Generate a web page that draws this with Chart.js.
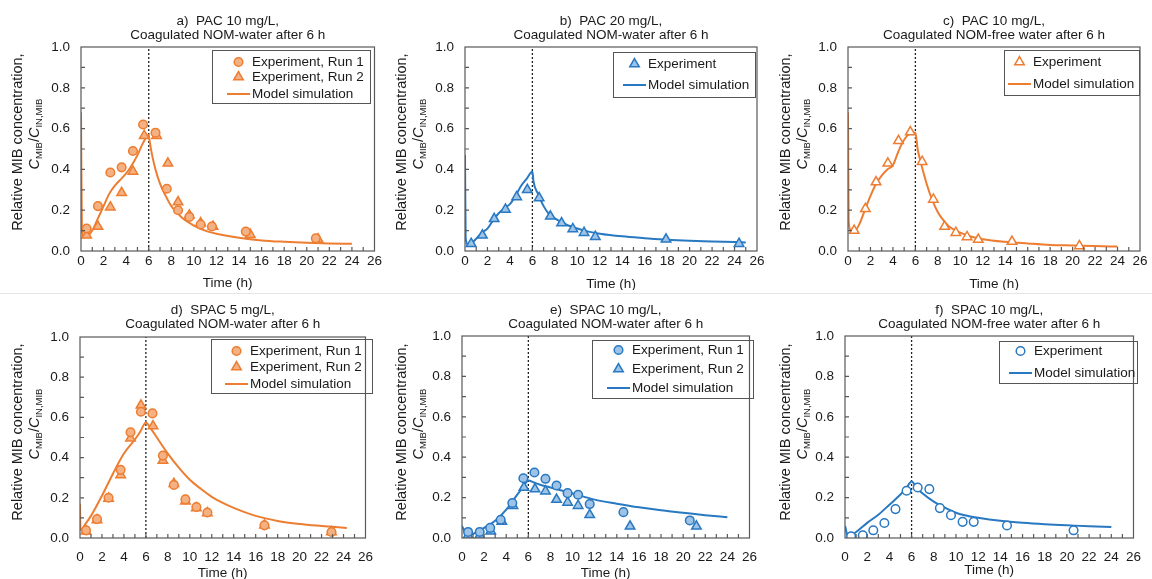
<!DOCTYPE html>
<html>
<head>
<meta charset="utf-8">
<script src="https://cdn.jsdelivr.net/npm/chart.js@4.4.1/dist/chart.umd.min.js"></script>
<style>
  body { margin: 0; background: #fff; }
  #wrap { position: relative; width: 1152px; height: 579px; overflow: hidden; background: #fff; }
  .panel { position: absolute; }
  #sep { position: absolute; left: 0; top: 293px; width: 1152px; height: 1px; background: #e6e6e6; }
</style>
</head>
<body>
<div id="wrap">
  <div id="sep"></div>
  <canvas class="panel" id="pa" width="384" height="290" style="left:0;top:0"></canvas>
  <canvas class="panel" id="pb" width="384" height="290" style="left:384px;top:0"></canvas>
  <canvas class="panel" id="pc" width="384" height="290" style="left:768px;top:0"></canvas>
  <canvas class="panel" id="pd" width="384" height="289" style="left:0;top:290px"></canvas>
  <canvas class="panel" id="pe" width="384" height="289" style="left:384px;top:290px"></canvas>
  <canvas class="panel" id="pf" width="384" height="289" style="left:768px;top:290px"></canvas>
</div>
<script>
// ---- data (time in h, relative C/C0) ----
var xTicks = [0, 26, 2];      // min, max, step
var yTicks = [0, 1, 0.2];
var switchTime = 6;           // coagulated water after 6 h

// a) PAC 10 mg/L, NOM-water
var aRun1T = [0.5, 1.5, 2.6, 3.6, 4.6, 5.5, 6.6, 7.6, 8.6, 9.6, 10.6, 11.6, 14.6, 20.8];
var aRun1C = [0.11, 0.22, 0.385, 0.41, 0.49, 0.62, 0.58, 0.305, 0.20, 0.167, 0.13, 0.12, 0.095, 0.062];
var aRun2T = [0.5, 1.5, 2.6, 3.6, 4.6, 5.6, 6.7, 7.7, 8.6, 9.6, 10.6, 11.7, 15.0, 21.0];
var aRun2C = [0.077, 0.12, 0.215, 0.285, 0.39, 0.565, 0.565, 0.43, 0.24, 0.175, 0.137, 0.12, 0.08, 0.058];
var aModelT = [0, 0.08, 0.3, 0.6, 1, 1.5, 2, 2.5, 3, 3.5, 4, 4.5, 5, 5.5, 6, 6.05, 6.3, 6.6, 7, 7.5, 8, 8.5, 9, 10, 11, 12, 14, 16, 18, 20, 22, 24];
var aModelC = [0.68, 0.1, 0.07, 0.075, 0.1, 0.16, 0.22, 0.28, 0.32, 0.35, 0.38, 0.42, 0.47, 0.53, 0.57, 0.55, 0.47, 0.4, 0.33, 0.27, 0.22, 0.19, 0.16, 0.125, 0.1, 0.085, 0.065, 0.052, 0.045, 0.04, 0.037, 0.035];

// b) PAC 20 mg/L, NOM-water
var bExpT = [0.55, 1.55, 2.6, 3.6, 4.6, 5.55, 6.6, 7.6, 8.6, 9.6, 10.6, 11.6, 17.9, 24.4];
var bExpC = [0.036, 0.077, 0.158, 0.204, 0.265, 0.30, 0.26, 0.17, 0.137, 0.108, 0.09, 0.07, 0.057, 0.036];
var bModelT = [0, 0.06, 0.3, 1, 1.5, 2, 2.5, 3, 3.5, 4, 4.5, 5, 5.5, 6, 6.1, 6.5, 7, 7.5, 8, 9, 10, 11, 12, 14, 16, 18, 20, 22, 25];
var bModelC = [0.47, 0.06, 0.03, 0.06, 0.09, 0.11, 0.15, 0.185, 0.21, 0.23, 0.27, 0.32, 0.355, 0.39, 0.34, 0.28, 0.22, 0.18, 0.16, 0.13, 0.11, 0.095, 0.085, 0.072, 0.063, 0.055, 0.05, 0.047, 0.042];

// c) PAC 10 mg/L, NOM-free water
var cExpT = [0.55, 1.55, 2.5, 3.55, 4.5, 5.55, 6.6, 7.6, 8.6, 9.6, 10.6, 11.6, 14.6, 20.6];
var cExpC = [0.10, 0.207, 0.338, 0.43, 0.54, 0.583, 0.438, 0.253, 0.12, 0.09, 0.069, 0.056, 0.046, 0.025];
var cModelT = [0, 0.06, 0.3, 0.6, 1, 1.5, 2, 2.5, 3, 3.5, 4, 4.5, 5, 5.5, 6, 6.2, 6.5, 7, 7.5, 8, 8.5, 9, 10, 11, 12, 14, 16, 18, 20, 22, 24];
var cModelC = [0.68, 0.14, 0.1, 0.1, 0.13, 0.2, 0.27, 0.33, 0.37, 0.4, 0.42, 0.49, 0.545, 0.575, 0.58, 0.5, 0.43, 0.33, 0.25, 0.19, 0.15, 0.12, 0.09, 0.07, 0.058, 0.045, 0.037, 0.03, 0.027, 0.024, 0.022];

// d) SPAC 5 mg/L, NOM-water
var dRun1T = [0.55, 1.55, 2.6, 3.7, 4.6, 5.55, 6.6, 7.55, 8.55, 9.6, 10.6, 11.6, 16.8, 22.9];
var dRun1C = [0.038, 0.094, 0.2, 0.339, 0.526, 0.628, 0.62, 0.41, 0.264, 0.192, 0.154, 0.127, 0.063, 0.03];
var dRun2T = [0.55, 1.55, 2.6, 3.7, 4.6, 5.55, 6.65, 7.55, 8.55, 9.6, 10.6, 11.6, 16.8, 22.9];
var dRun2C = [0.033, 0.09, 0.197, 0.314, 0.496, 0.66, 0.557, 0.385, 0.27, 0.183, 0.149, 0.124, 0.063, 0.03];
var dModelT = [0, 0.05, 0.5, 1, 2, 3, 4, 5, 5.5, 6, 6.5, 7, 8, 9, 10, 11, 12, 13, 14, 16, 18, 20, 22, 24.3];
var dModelC = [0.17, 0.04, 0.07, 0.11, 0.21, 0.32, 0.42, 0.49, 0.53, 0.575, 0.54, 0.5, 0.42, 0.35, 0.29, 0.245, 0.205, 0.175, 0.15, 0.11, 0.085, 0.07, 0.06, 0.05];

// e) SPAC 10 mg/L, NOM-water
var eRun1T = [0.55, 1.6, 2.55, 3.5, 4.55, 5.55, 6.55, 7.55, 8.55, 9.55, 10.5, 11.55, 14.6, 20.6];
var eRun1C = [0.03, 0.03, 0.05, 0.09, 0.173, 0.296, 0.324, 0.293, 0.26, 0.222, 0.214, 0.168, 0.128, 0.087];
var eRun2T = [0.55, 1.6, 2.6, 3.6, 4.6, 5.6, 6.6, 7.55, 8.55, 9.55, 10.5, 11.55, 15.2, 21.2];
var eRun2C = [0.012, 0.012, 0.033, 0.082, 0.16, 0.25, 0.242, 0.232, 0.19, 0.176, 0.16, 0.115, 0.058, 0.058];
var eModelT = [0, 0.5, 1, 2, 3, 4, 5, 5.5, 6, 6.5, 7, 8, 9, 10, 11, 12, 14, 16, 18, 20, 22, 24];
var eModelC = [0.06, 0.01, 0.02, 0.05, 0.085, 0.14, 0.215, 0.25, 0.285, 0.275, 0.265, 0.25, 0.235, 0.22, 0.205, 0.19, 0.17, 0.152, 0.137, 0.125, 0.113, 0.103];

// f) SPAC 10 mg/L, NOM-free water
var fExpT = [0.55, 1.6, 2.55, 3.55, 4.55, 5.55, 6.55, 7.6, 8.55, 9.55, 10.6, 11.6, 14.6, 20.6];
var fExpC = [0.008, 0.013, 0.038, 0.074, 0.143, 0.234, 0.25, 0.242, 0.148, 0.113, 0.08, 0.08, 0.062, 0.038];
var fModelT = [0, 0.3, 1, 2, 3, 4, 5, 5.5, 6, 6.5, 7, 8, 9, 10, 11, 12, 14, 16, 18, 20, 22, 24];
var fModelC = [0.06, 0.005, 0.03, 0.075, 0.115, 0.165, 0.215, 0.245, 0.28, 0.245, 0.22, 0.18, 0.15, 0.125, 0.11, 0.1, 0.085, 0.075, 0.068, 0.063, 0.058, 0.055];

// ---- styling ----
var FONT = "'Liberation Sans', Arial, sans-serif";
var ORANGE = "#ED7D31", ORANGE_FILL = "#F4B183";
var BLUE = "#2878C2", BLUE_FILL = "#9DC3E6";
var AXIS = "#595959", TEXT = "#1a1a1a";

function pts(xs, ys) {
  return xs.map(function (x, i) { return {x: x, y: ys[i]}; });
}
function markers(label, xs, ys, style, fill, stroke) {
  return {
    label: label, data: pts(xs, ys), showLine: false, order: 1,
    pointStyle: style, pointRadius: style === "triangle" ? 5.5 : 4.3,
    pointBackgroundColor: fill, pointBorderColor: stroke, pointBorderWidth: 1.5,
    backgroundColor: fill, borderColor: stroke
  };
}
function model(xs, ys, color) {
  return {
    label: "Model simulation", data: pts(xs, ys), showLine: true, order: 2,
    borderColor: color, borderWidth: 2, pointRadius: 0, cubicInterpolationMode: "monotone", fill: false
  };
}

function drawMarker(ctx, style, x, y, r, fill, stroke) {
  ctx.beginPath();
  if (style === "triangle") {
    for (var k = 0; k < 3; k++) {
      var a = k * 2 * Math.PI / 3;
      var px = x + Math.sin(a) * r, py = y - Math.cos(a) * r;
      k ? ctx.lineTo(px, py) : ctx.moveTo(px, py);
    }
    ctx.closePath();
  } else {
    ctx.arc(x, y, r, 0, 2 * Math.PI);
  }
  ctx.fillStyle = fill; ctx.fill();
  ctx.lineWidth = 1.5; ctx.strokeStyle = stroke; ctx.stroke();
}

var decor = {
  id: "decor",
  beforeDatasetsDraw: function (chart) {
    var ctx = chart.ctx, ca = chart.chartArea, xs = chart.scales.x;
    var px = xs.getPixelForValue(switchTime);
    ctx.save();
    ctx.setLineDash([2, 2]);
    ctx.strokeStyle = "#222"; ctx.lineWidth = 1.3;
    ctx.beginPath(); ctx.moveTo(px, ca.bottom); ctx.lineTo(px, ca.top); ctx.stroke();
    ctx.restore();
  },
  afterDraw: function (chart, args, o) {
    var ctx = chart.ctx, ca = chart.chartArea, xs = chart.scales.x, ys = chart.scales.y;
    var i, p;
    ctx.save();
    // frame
    ctx.strokeStyle = AXIS; ctx.lineWidth = 1.2;
    ctx.strokeRect(ca.left, ca.top, ca.right - ca.left, ca.bottom - ca.top);
    // inward minor ticks
    ctx.beginPath();
    for (i = 1; i < 10; i++) {
      p = ys.getPixelForValue(i / 10);
      ctx.moveTo(ca.left, p); ctx.lineTo(ca.left + 4, p);
    }
    for (i = 1; i < 26; i++) {
      p = xs.getPixelForValue(i);
      ctx.moveTo(p, ca.bottom); ctx.lineTo(p, ca.bottom - 4);
    }
    ctx.stroke();

    var cx = (ca.left + ca.right) / 2;
    ctx.fillStyle = TEXT;
    ctx.textAlign = "center"; ctx.textBaseline = "middle";
    // panel title
    ctx.font = "13.5px " + FONT;
    ctx.fillText(o.title[0], cx, o.titleY[0]);
    ctx.fillText(o.title[1], cx, o.titleY[1]);
    // x title
    ctx.fillText("Time (h)", cx, o.xLabelY);

    // y title, two rotated lines with subscripts
    ctx.save();
    ctx.translate(18, o.yLabelY);
    ctx.rotate(-Math.PI / 2);
    ctx.font = "14.5px " + FONT;
    ctx.fillText("Relative MIB concentration,", 0, 0);
    ctx.restore();

    var parts = [
      {t: "C", f: "italic 14.5px " + FONT, dy: 0},
      {t: "MIB", f: "9.5px " + FONT, dy: 4},
      {t: "/", f: "14.5px " + FONT, dy: 0},
      {t: "C", f: "italic 14.5px " + FONT, dy: 0},
      {t: "IN,MIB", f: "9.5px " + FONT, dy: 4}
    ];
    var total = 0;
    parts.forEach(function (q) { ctx.font = q.f; q.w = ctx.measureText(q.t).width; total += q.w; });
    ctx.save();
    ctx.translate(35, o.yLabelY - 8);
    ctx.rotate(-Math.PI / 2);
    ctx.textAlign = "left";
    var run = -total / 2;
    parts.forEach(function (q) { ctx.font = q.f; ctx.fillText(q.t, run, q.dy); run += q.w; });
    ctx.restore();

    // legend
    var L = o.legend;
    ctx.strokeStyle = "#555"; ctx.lineWidth = 1;
    ctx.strokeRect(L.x + 0.5, L.y + 0.5, L.w, L.h);
    ctx.font = "13.5px " + FONT; ctx.textAlign = "left";
    chart.data.datasets.forEach(function (ds, k) {
      var ry = L.y + L.rows[k], lx = L.x + L.lx;
      if (ds.showLine) {
        ctx.strokeStyle = ds.borderColor; ctx.lineWidth = 2;
        ctx.beginPath(); ctx.moveTo(lx, ry); ctx.lineTo(lx + 23, ry); ctx.stroke();
      } else {
        drawMarker(ctx, ds.pointStyle, lx + 11.5, ry, ds.pointRadius, ds.pointBackgroundColor, ds.pointBorderColor);
      }
      ctx.fillStyle = TEXT;
      ctx.fillText(ds.label, lx + 25, ry);
    });
    ctx.restore();
  }
};

function buildPanel(id, area, datasets, o) {
  var cv = document.getElementById(id);
  var W = cv.width, H = cv.height;
  new Chart(cv, {
    type: "scatter",
    data: {datasets: datasets},
    plugins: [decor],
    options: {
      responsive: false, animation: false, devicePixelRatio: 1,
      layout: {padding: {left: 0, top: area.top, right: W - area.right, bottom: 0}},
      plugins: {legend: {display: false}, tooltip: {enabled: false}, title: {display: false}, decor: o},
      scales: {
        x: {
          type: "linear", min: xTicks[0], max: xTicks[1],
          afterFit: function (s) { s.height = H - area.bottom; },
          grid: {display: false, drawTicks: false}, border: {display: false},
          ticks: {stepSize: xTicks[2], autoSkip: false, maxRotation: 0, padding: o.xPad,
                  color: TEXT, font: {family: FONT, size: 13.5}}
        },
        y: {
          type: "linear", min: yTicks[0], max: yTicks[1],
          afterFit: function (s) { s.width = area.left; },
          grid: {display: false, drawTicks: false}, border: {display: false},
          ticks: {stepSize: yTicks[2], padding: 11, color: TEXT, font: {family: FONT, size: 13.5},
                  callback: function (v) { return v.toFixed(1); }}
        }
      }
    }
  });
}

var run1 = "Experiment, Run 1", run2 = "Experiment, Run 2";

buildPanel("pa", {left: 81, right: 375, top: 47, bottom: 251}, [
  markers(run1, aRun1T, aRun1C, "circle", ORANGE_FILL, ORANGE),
  markers(run2, aRun2T, aRun2C, "triangle", ORANGE_FILL, ORANGE),
  model(aModelT, aModelC, ORANGE)
], {title: ["a)  PAC 10 mg/L,", "Coagulated NOM-water after 6 h"], titleY: [21, 35], xLabelY: 283, yLabelY: 142, xPad: 2,
    legend: {x: 212, y: 50, w: 158, h: 53, lx: 15, rows: [12, 27, 44]}});

buildPanel("pb", {left: 81, right: 373, top: 47, bottom: 251}, [
  markers("Experiment", bExpT, bExpC, "triangle", BLUE_FILL, BLUE),
  model(bModelT, bModelC, BLUE)
], {title: ["b)  PAC 20 mg/L,", "Coagulated NOM-water after 6 h"], titleY: [21, 35], xLabelY: 284, yLabelY: 142, xPad: 2,
    legend: {x: 229, y: 52, w: 142, h: 45, lx: 10, rows: [12, 33]}});

buildPanel("pc", {left: 80, right: 372, top: 47, bottom: 251}, [
  markers("Experiment", cExpT, cExpC, "triangle", "#ffffff", ORANGE),
  model(cModelT, cModelC, ORANGE)
], {title: ["c)  PAC 10 mg/L,", "Coagulated NOM-free water after 6 h"], titleY: [21, 35], xLabelY: 284, yLabelY: 142, xPad: 2,
    legend: {x: 236, y: 50, w: 135, h: 45, lx: 4, rows: [12, 34]}});

buildPanel("pd", {left: 80, right: 375, top: 47, bottom: 248}, [
  markers(run1, dRun1T, dRun1C, "circle", ORANGE_FILL, ORANGE),
  markers(run2, dRun2T, dRun2C, "triangle", ORANGE_FILL, ORANGE),
  model(dModelT, dModelC, ORANGE)
], {title: ["d)  SPAC 5 mg/L,", "Coagulated NOM-water after 6 h"], titleY: [20, 34], xLabelY: 283, yLabelY: 142, xPad: 11,
    legend: {x: 211, y: 49, w: 161, h: 54, lx: 14, rows: [12, 28, 45]}});

buildPanel("pe", {left: 78, right: 373, top: 46, bottom: 248}, [
  markers(run1, eRun1T, eRun1C, "circle", BLUE_FILL, BLUE),
  markers(run2, eRun2T, eRun2C, "triangle", BLUE_FILL, BLUE),
  model(eModelT, eModelC, BLUE)
], {title: ["e)  SPAC 10 mg/L,", "Coagulated NOM-water after 6 h"], titleY: [20, 34], xLabelY: 283, yLabelY: 142, xPad: 11,
    legend: {x: 208, y: 50, w: 161, h: 58, lx: 15, rows: [10, 29, 48]}});

buildPanel("pf", {left: 77, right: 373, top: 46, bottom: 248}, [
  markers("Experiment", fExpT, fExpC, "circle", "#ffffff", BLUE),
  model(fModelT, fModelC, BLUE)
], {title: ["f)  SPAC 10 mg/L,", "Coagulated NOM-free water after 6 h"], titleY: [20, 34], xLabelY: 280, yLabelY: 142, xPad: 11,
    legend: {x: 231, y: 51, w: 138, h: 42, lx: 10, rows: [10, 32]}});
</script>
</body>
</html>
